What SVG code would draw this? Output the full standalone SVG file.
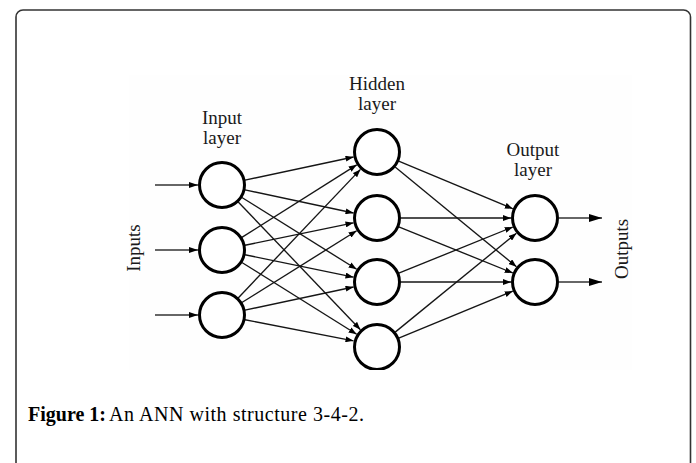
<svg xmlns="http://www.w3.org/2000/svg" width="696" height="463" viewBox="0 0 696 463">
  <style>
    .node { fill: #ffffff; stroke: #000000; stroke-width: 3; }
    .edge { stroke: #151515; stroke-width: 1.35; fill: none; marker-end: url(#arrow); }
    .io { stroke: #333333; stroke-width: 1.6; fill: none; }
    .lbl { font-family: "Liberation Serif", "Times New Roman", serif; font-size: 19px; fill: #1a1a1a; text-anchor: middle; }
    .cap { font-family: "Liberation Serif", "Times New Roman", serif; font-size: 20px; fill: #000000; }
  </style>
  <defs>
    <marker id="arrow" viewBox="0 0 8 6" refX="8" refY="3" markerWidth="8" markerHeight="6" markerUnits="userSpaceOnUse" orient="auto">
      <path d="M0,0 L8,3 L0,6 z" fill="#000000"/>
    </marker>
    <marker id="arrowIn" viewBox="0 0 9 6" refX="9" refY="3" markerWidth="9" markerHeight="6" markerUnits="userSpaceOnUse" orient="auto">
      <path d="M0,0 L9,3 L0,6 z" fill="#000000"/>
    </marker>
    <marker id="arrowOut" viewBox="0 0 13 8" refX="13" refY="4" markerWidth="13" markerHeight="8" markerUnits="userSpaceOnUse" orient="auto">
      <path d="M0,0 L13,4 L0,8 z" fill="#000000"/>
    </marker>
    <clipPath id="imgClip">
      <rect x="120" y="60" width="520" height="310"/>
    </clipPath>
  </defs>

  <!-- frame -->
  <rect x="16" y="10" width="674.5" height="470" rx="7" ry="7" fill="#ffffff" stroke="#333333" stroke-width="1.6"/>
  <rect x="129" y="75" width="503" height="295" fill="#fefefe"/>

  <g clip-path="url(#imgClip)">
    <g id="connectors">
      <!-- external inputs -->
      <line class="io" x1="155" y1="185" x2="198" y2="185" marker-end="url(#arrowIn)"/>
      <line class="io" x1="155" y1="250" x2="198" y2="250" marker-end="url(#arrowIn)"/>
      <line class="io" x1="155" y1="315" x2="198" y2="315" marker-end="url(#arrowIn)"/>
      <!-- input -> hidden -->
      <line class="edge" x1="244.99" y1="180.11" x2="353.53" y2="157.00"/>
      <line class="edge" x1="244.99" y1="189.89" x2="353.53" y2="213.00"/>
      <line class="edge" x1="241.92" y1="197.47" x2="356.65" y2="269.27"/>
      <line class="edge" x1="238.25" y1="201.98" x2="360.41" y2="329.66"/>
      <line class="edge" x1="241.86" y1="237.44" x2="356.72" y2="164.83"/>
      <line class="edge" x1="245.01" y1="245.25" x2="353.50" y2="222.85"/>
      <line class="edge" x1="245.01" y1="254.75" x2="353.50" y2="277.15"/>
      <line class="edge" x1="241.92" y1="262.47" x2="356.65" y2="334.27"/>
      <line class="edge" x1="238.19" y1="297.97" x2="360.46" y2="169.39"/>
      <line class="edge" x1="241.92" y1="302.53" x2="356.65" y2="230.73"/>
      <line class="edge" x1="244.99" y1="310.11" x2="353.53" y2="287.00"/>
      <line class="edge" x1="245.01" y1="319.75" x2="353.50" y2="340.85"/>
      <!-- hidden -> output -->
      <line class="edge" x1="398.68" y1="161.06" x2="512.86" y2="208.75"/>
      <line class="edge" x1="395.15" y1="166.93" x2="516.47" y2="266.75"/>
      <line class="edge" x1="400.5" y1="218" x2="511" y2="218"/>
      <line class="edge" x1="398.78" y1="226.82" x2="512.75" y2="272.99"/>
      <line class="edge" x1="398.78" y1="273.18" x2="512.75" y2="227.01"/>
      <line class="edge" x1="400.5" y1="282" x2="511" y2="282"/>
      <line class="edge" x1="395.20" y1="332.14" x2="516.41" y2="233.18"/>
      <line class="edge" x1="398.73" y1="338.06" x2="512.80" y2="291.13"/>
      <!-- external outputs -->
      <line class="io" x1="559" y1="218" x2="602" y2="218" marker-end="url(#arrowOut)"/>
      <line class="io" x1="559" y1="282" x2="602" y2="282" marker-end="url(#arrowOut)"/>
    </g>

    <g id="input1"><circle class="node" cx="222" cy="185" r="22.5"/></g>
    <g id="input2"><circle class="node" cx="222" cy="250" r="22.5"/></g>
    <g id="input3"><circle class="node" cx="222" cy="315" r="22.5"/></g>
    <g id="hidden1"><circle class="node" cx="377" cy="152" r="22.5"/></g>
    <g id="hidden2"><circle class="node" cx="377" cy="218" r="22.5"/></g>
    <g id="hidden3"><circle class="node" cx="377" cy="282" r="22.5"/></g>
    <g id="hidden4"><circle class="node" cx="377" cy="347" r="22.5"/></g>
    <g id="output1"><circle class="node" cx="535" cy="218" r="22.5"/></g>
    <g id="output2"><circle class="node" cx="535" cy="282" r="22.5"/></g>
  </g>

  <g id="labels">
    <text class="lbl" x="222" y="124">Input</text>
    <text class="lbl" x="222" y="144">layer</text>
    <text class="lbl" x="377" y="90">Hidden</text>
    <text class="lbl" x="377" y="110">layer</text>
    <text class="lbl" x="533" y="156">Output</text>
    <text class="lbl" x="533" y="176">layer</text>
    <text class="lbl" transform="translate(140,248) rotate(-90)">Inputs</text>
    <text class="lbl" transform="translate(628,249) rotate(-90)">Outputs</text>
  </g>

  <g id="caption">
    <text class="cap" x="28" y="421" font-weight="bold" font-size="19">Figure 1:</text>
    <text class="cap" x="109" y="421" textLength="255" lengthAdjust="spacing">An ANN with structure 3-4-2.</text>
  </g>
</svg>
